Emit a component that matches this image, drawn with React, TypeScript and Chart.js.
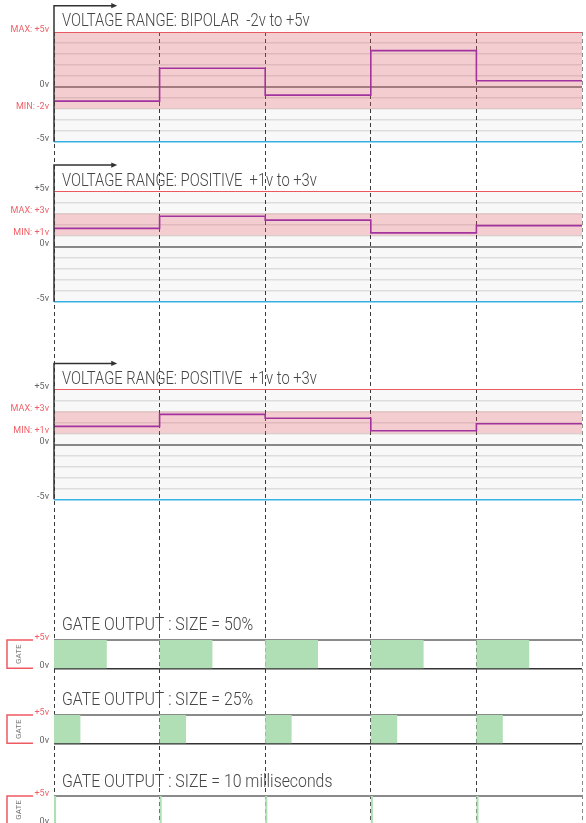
import React, { useEffect, useRef } from 'react';
import { Chart, registerables } from 'chart.js';

Chart.register(...registerables);

// ---------------- data ----------------
const STEP_POSITIONS = [0, 1, 2, 3, 4, 5];
const VOLT_TICKS = [-5, -4, -3, -2, -1, 0, 1, 2, 3, 4, 5];
const GATE_TICKS = [0, 5];

const bipolarValues = [-1.3, 1.7, -0.75, 3.3, 0.55];
const positiveValues = [1.65, 2.75, 2.4, 1.25, 1.9];
const positiveValuesCopy = [1.65, 2.75, 2.4, 1.25, 1.9];
const gateSizes = [0.5, 0.25, 0.02]; // fraction of one step

const bipolarRange = [-2, 5];
const positiveRange = [1, 3];
const arrowReach = [0.58, 7.4]; // step fraction, volts

// [value, text, highlighted]
const bipolarLabels: [number, string, boolean][] = [
  [5, 'MAX: +5v', true],
  [0, '0v', false],
  [-2, 'MIN: -2v', true],
  [-5, '-5v', false],
];
const positiveLabels: [number, string, boolean][] = [
  [5, '+5v', false],
  [3, 'MAX: +3v', true],
  [1, 'MIN: +1v', true],
  [0, '0v', false],
  [-5, '-5v', false],
];
const gateLabels: [number, string, boolean][] = [
  [5, '+5v', true],
  [0, '0v', false],
];

const titles = [
  'VOLTAGE RANGE: BIPOLAR  -2v to +5v',
  'VOLTAGE RANGE: POSITIVE  +1v to +3v',
  'VOLTAGE RANGE: POSITIVE  +1v to +3v',
  'GATE OUTPUT : SIZE = 50%',
  'GATE OUTPUT : SIZE = 25%',
  'GATE OUTPUT : SIZE = 10 milliseconds',
];

// ---------------- layout / style ----------------
const W = 586;
const H = 823;
const PAD_TOP = 32;
const AXIS_W = 54;
const PAD_RIGHT = 4;

// pixel boxes for each stacked panel axis, and where its reference values sit
const BOXES = [
  { top: 32, bottom: 150, refTopPx: 32, refBottomPx: 141.7, titleDy: -10.5, titleScale: 0.82 },
  { top: 150, bottom: 345, refTopPx: 191.5, refBottomPx: 301.7, titleDy: -10, titleScale: 0.82 },
  { top: 345, bottom: 560, refTopPx: 389.7, refBottomPx: 499.3, titleDy: -10, titleScale: 0.82 },
  { top: 560, bottom: 690, refTopPx: 640, refBottomPx: 668.3, titleDy: -15, titleScale: 0.88 },
  { top: 690, bottom: 770, refTopPx: 715, refBottomPx: 743.3, titleDy: -15, titleScale: 0.88 },
  { top: 770, bottom: 823, refTopPx: 796, refBottomPx: 824, titleDy: -14, titleScale: 0.88 },
];

const C = {
  dash: '#3a3a3a',
  dashEnd: '#8a8a8a',
  grid: 'rgba(0,0,0,0.11)',
  zero: '#8c8c8c',
  red: '#ee5a62',
  redText: '#f06068',
  blue: '#36b4e6',
  text: '#666',
  title: '#454545',
  bg: 'rgba(0,0,0,0.028)',
  pink: 'rgba(232,96,108,0.29)',
  purple: '#a2339e',
  axis: '#333',
  green: '#b0dfb6',
  gateTop: '#8a8a8a',
  gateBottom: '#333',
};

type Panel = {
  kind: 'volt' | 'gate';
  refTopV: number;
  refBottomV: number;
  ticks: number[];
  labels: [number, string, boolean][];
  values?: number[];
  range?: number[];
  gate?: number;
};

const panels: Panel[] = [
  { kind: 'volt', refTopV: 5, refBottomV: -5, ticks: VOLT_TICKS, labels: bipolarLabels, values: bipolarValues, range: bipolarRange },
  { kind: 'volt', refTopV: 5, refBottomV: -5, ticks: VOLT_TICKS, labels: positiveLabels, values: positiveValues, range: positiveRange },
  { kind: 'volt', refTopV: 5, refBottomV: -5, ticks: VOLT_TICKS, labels: positiveLabels, values: positiveValuesCopy, range: positiveRange },
  { kind: 'gate', refTopV: 5, refBottomV: 0, ticks: GATE_TICKS, labels: gateLabels, gate: gateSizes[0] },
  { kind: 'gate', refTopV: 5, refBottomV: 0, ticks: GATE_TICKS, labels: gateLabels, gate: gateSizes[1] },
  { kind: 'gate', refTopV: 5, refBottomV: 0, ticks: GATE_TICKS, labels: gateLabels, gate: gateSizes[2] },
];

const annotatePlugin = {
  id: 'annotate',
  afterDraw(chart: any) {
    const ctx: CanvasRenderingContext2D = chart.ctx;
    const xs = chart.scales.x;
    const x0 = xs.getPixelForValue(0);
    panels.forEach((p, i) => {
      const ys = chart.scales['y' + i];
      const yTop = ys.getPixelForValue(p.refTopV);
      ctx.save();
      ctx.font = '300 18px Roboto';
      ctx.fillStyle = C.title;
      ctx.textBaseline = 'middle';
      ctx.translate(x0 + 8, yTop + BOXES[i].titleDy);
      ctx.scale(BOXES[i].titleScale, 1);
      ctx.fillText(titles[i], 0, 0);
      ctx.restore();
      if (p.kind === 'volt') {
        // arrow head at the end of the time arrow
        const ax = xs.getPixelForValue(arrowReach[0]);
        const ay = ys.getPixelForValue(arrowReach[1]);
        ctx.save();
        ctx.fillStyle = C.axis;
        ctx.beginPath();
        ctx.moveTo(ax + 2, ay);
        ctx.lineTo(ax - 4, ay - 2.6);
        ctx.lineTo(ax - 4, ay + 2.6);
        ctx.closePath();
        ctx.fill();
        ctx.restore();
      } else {
        const yBot = ys.getPixelForValue(0);
        ctx.save();
        ctx.strokeStyle = C.red;
        ctx.lineWidth = 1.5;
        ctx.beginPath();
        ctx.moveTo(33, yTop);
        ctx.lineTo(7, yTop);
        ctx.lineTo(7, yBot);
        ctx.lineTo(33, yBot);
        ctx.stroke();
        ctx.translate(18.5, (yTop + yBot) / 2);
        ctx.rotate(-Math.PI / 2);
        ctx.font = '8px Roboto';
        ctx.fillStyle = '#777';
        ctx.textAlign = 'center';
        ctx.textBaseline = 'middle';
        ctx.fillText('GATE', 0, 0);
        ctx.restore();
      }
    });
  },
};

export default function App() {
  const ref = useRef<HTMLCanvasElement>(null);

  useEffect(() => {
    const canvas = ref.current!;
    const datasets: any[] = [];
    const scales: any = {
      x: {
        type: 'linear',
        min: STEP_POSITIONS[0],
        max: STEP_POSITIONS[STEP_POSITIONS.length - 1],
        position: 'bottom',
        z: 1,
        afterBuildTicks: (s: any) => {
          s.ticks = STEP_POSITIONS.map((v) => ({ value: v }));
        },
        ticks: { display: false },
        grid: {
          drawTicks: false,
          lineWidth: 1,
          color: (c: any) => (c.index === STEP_POSITIONS.length - 1 ? C.dashEnd : C.dash),
        },
        border: { display: false, dash: [4, 3] },
      },
    };

    panels.forEach((p, i) => {
      const b = BOXES[i];
      const id = 'y' + i;
      const ppv = (b.refBottomPx - b.refTopPx) / (p.refTopV - p.refBottomV);
      const max = p.refTopV + (b.refTopPx - b.top) / ppv;
      const min = p.refBottomV - (b.bottom - b.refBottomPx) / ppv;
      const labelMap = new Map(p.labels.map((l) => [l[0], l]));
      scales[id] = {
        type: 'linear',
        position: 'left',
        stack: 'panels',
        stackWeight: b.bottom - b.top,
        weight: 100 - i,
        bounds: 'data',
        min,
        max,
        afterBuildTicks: (s: any) => {
          s.ticks = p.ticks.map((v) => ({ value: v }));
        },
        afterFit: (s: any) => {
          s.width = AXIS_W;
          s.paddingTop = 0;
          s.paddingBottom = 0;
        },
        ticks: {
          autoSkip: false,
          padding: 5,
          labelOffset: -2.5,
          font: { family: 'Roboto', size: 9 },
          color: (c: any) => {
            const l = labelMap.get(c.tick.value);
            return l && l[2] ? C.redText : C.text;
          },
          callback: (v: number) => {
            const l = labelMap.get(v);
            return l ? l[1] : '';
          },
        },
        grid: {
          drawTicks: false,
          color: (c: any) => {
            const v = c.tick.value;
            if (p.kind === 'gate') return v === 5 ? C.gateTop : C.gateBottom;
            if (v === 5) return C.red;
            if (v === -5) return C.blue;
            if (v === 0) return C.zero;
            return C.grid;
          },
          lineWidth: (c: any) => {
            const v = c.tick.value;
            if (p.kind === 'gate') return v === 5 ? 2 : 1.5;
            if (v === 0) return 2;
            if (v === 5) return 1;
            return 1.5;
          },
        },
        border: { display: false },
      };

      const xEnd = STEP_POSITIONS[STEP_POSITIONS.length - 1];
      if (p.kind === 'volt') {
        const vals = p.values!;
        datasets.push({
          type: 'line',
          yAxisID: id,
          data: [{ x: 0, y: p.refTopV }, { x: xEnd, y: p.refTopV }],
          fill: { value: p.refBottomV },
          backgroundColor: C.bg,
          borderWidth: 0,
          pointRadius: 0,
          order: 5,
        });
        datasets.push({
          type: 'line',
          yAxisID: id,
          data: [{ x: 0, y: p.range![1] }, { x: xEnd, y: p.range![1] }],
          fill: { value: p.range![0] },
          backgroundColor: C.pink,
          borderWidth: 0,
          pointRadius: 0,
          order: 4,
        });
        datasets.push({
          type: 'line',
          yAxisID: id,
          data: [
            ...vals.map((v, k) => ({ x: STEP_POSITIONS[k], y: v })),
            { x: xEnd, y: vals[vals.length - 1] },
          ],
          stepped: true,
          borderColor: C.purple,
          borderWidth: 1.6,
          pointRadius: 0,
          fill: false,
          order: 1,
        });
        datasets.push({
          type: 'line',
          yAxisID: id,
          data: [
            { x: arrowReach[0] - 0.02, y: arrowReach[1] },
            { x: 0, y: arrowReach[1] },
            { x: 0, y: p.refBottomV },
          ],
          borderColor: C.axis,
          borderWidth: 1.5,
          pointRadius: 0,
          fill: false,
          clip: false,
          order: 0,
        });
      } else {
        const g = p.gate!;
        const pts: any[] = [];
        STEP_POSITIONS.slice(0, -1).forEach((s) => {
          pts.push({ x: s, y: p.refTopV });
          pts.push({ x: s + g, y: p.refBottomV });
        });
        pts.push({ x: xEnd, y: p.refBottomV });
        datasets.push({
          type: 'line',
          yAxisID: id,
          data: pts,
          stepped: true,
          fill: { value: p.refBottomV },
          backgroundColor: C.green,
          borderWidth: 0,
          pointRadius: 0,
          order: 3,
        });
      }
    });

    const chart = new Chart(canvas, {
      type: 'line',
      data: { datasets },
      options: {
        responsive: false,
        animation: false,
        events: [],
        layout: { padding: { top: PAD_TOP, right: PAD_RIGHT, left: 0, bottom: 0 } },
        plugins: { legend: { display: false }, tooltip: { enabled: false }, title: { display: false } },
        scales,
      } as any,
      plugins: [annotatePlugin],
    });
    return () => chart.destroy();
  }, []);

  return (
    <div style={{ position: 'absolute', left: 0, top: 0, width: W, height: H, background: '#fff' }}>
      <canvas ref={ref} width={W} height={H} style={{ display: 'block' }} />
    </div>
  );
}
